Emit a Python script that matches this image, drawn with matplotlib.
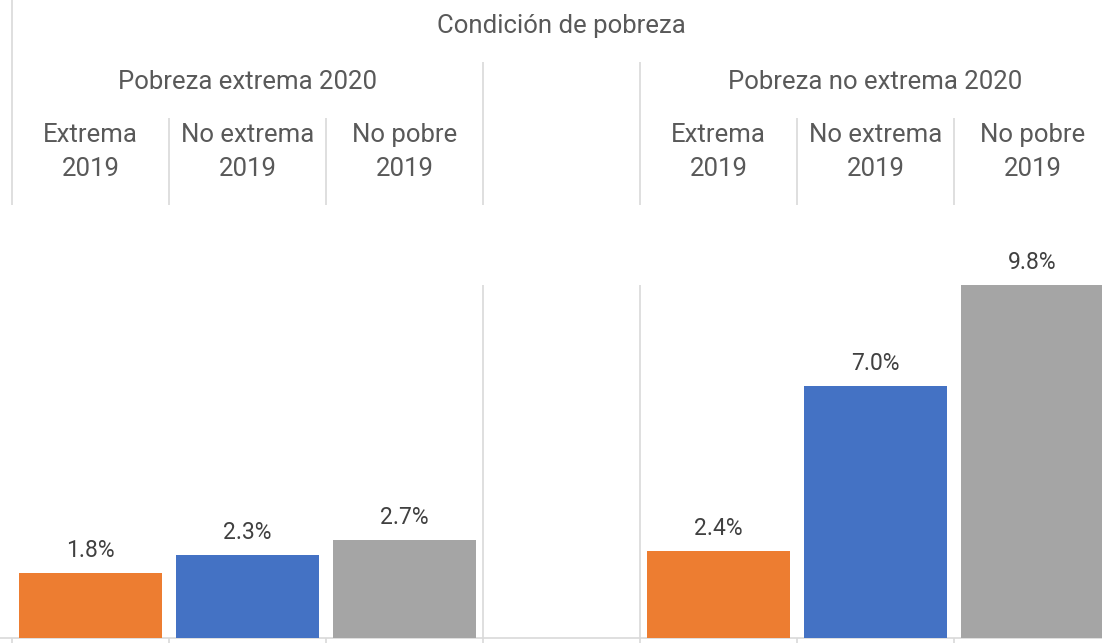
import matplotlib.pyplot as plt

plt.rcParams['font.family'] = ['Roboto', 'DejaVu Sans']

# data
groups = ['Pobreza extrema 2020', 'Pobreza no extrema 2020']
subcats = ['Extrema\n2019', 'No extrema\n2019', 'No pobre\n2019']
values_ext = [1.8, 2.3, 2.7]
values_noext = [2.4, 7.0, 9.8]
colors = ['#ED7D31', '#4472C4', '#A5A5A5']

W, H = 1102, 643
fig = plt.figure(figsize=(W / 100, H / 100), dpi=100)

# slots of 157 px starting at x=12 px; one empty slot between the groups
slot = 157.0
x0 = 12.0
xlim = (-x0 / slot, (W - x0) / slot)

base_px = 637.5
top_px = 285.0
ax = fig.add_axes([0, (H - base_px) / H, 1, (base_px - top_px) / H])

positions = [0.5, 1.5, 2.5, 4.5, 5.5, 6.5]
vals = values_ext + values_noext
cols = colors + colors
bars = ax.bar(positions, vals, width=0.91, color=cols, zorder=3)
for b, v in zip(bars, vals):
    ax.annotate(f'{v:.1f}%', (b.get_x() + b.get_width() / 2, v),
                xytext=(0, 8), textcoords='offset points',
                ha='center', va='bottom', fontsize=16.5, color='#404040',
                annotation_clip=False)

grid_c = '#D9D9D9'
for xs in [3, 4]:
    ax.axvline(xs, color=grid_c, lw=1.2, zorder=1)
for s in ['top', 'right', 'left']:
    ax.spines[s].set_visible(False)
ax.spines['bottom'].set_color(grid_c)
ax.spines['bottom'].set_linewidth(1.2)
ax.set_yticks([])
ax.set_xticks(range(0, 7))
ax.set_xticklabels([])
ax.tick_params(axis='x', direction='out', length=5, width=1.2, color=grid_c)
ax.set_xlim(*xlim)
ax.set_ylim(0, 9.8)

# header table
hax = fig.add_axes([0, (H - 205) / H, 1, 205 / H])
hax.set_xlim(*xlim)
hax.set_ylim(205, 0)
hax.axis('off')
hc = '#595959'
fs = 18.5
hax.text(3.5, 26, 'Condición de pobreza', ha='center', va='center',
         fontsize=fs, color=hc)
hax.text(1.5, 82, groups[0], ha='center', va='center', fontsize=fs, color=hc)
hax.text(5.5, 82, groups[1], ha='center', va='center', fontsize=fs, color=hc)
for i, lab in enumerate(subcats):
    for c in (i + 0.5, i + 4.5):
        hax.text(c, 152, lab, ha='center', va='center', fontsize=fs,
                 color=hc, linespacing=1.55)

hax.vlines([0], 0, 205, color=grid_c, lw=1.2)
hax.vlines([3, 4], 62, 205, color=grid_c, lw=1.2)
hax.vlines([1, 2, 5, 6], 118, 205, color=grid_c, lw=1.2)

fig.savefig('out.png', dpi=100)
